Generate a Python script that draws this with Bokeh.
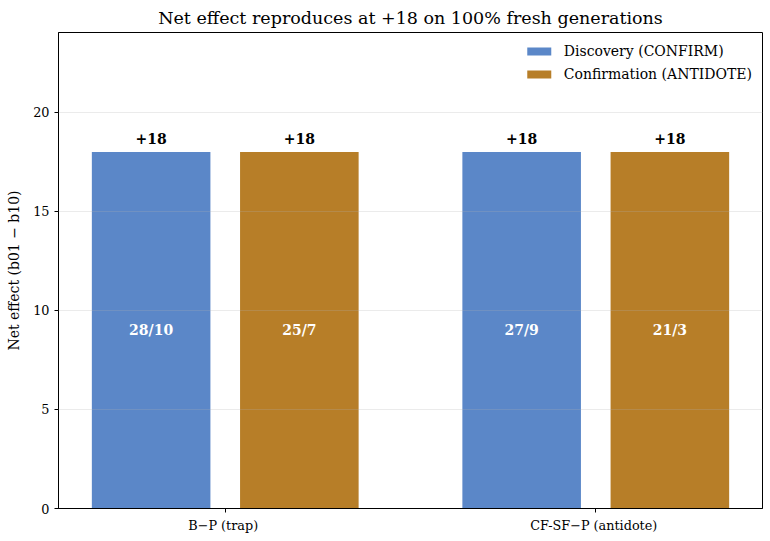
from bokeh.plotting import figure
from bokeh.models import ColumnDataSource, FixedTicker, Legend, LegendItem, Range1d
from bokeh.core.properties import value
from bokeh.embed import file_html
from bokeh.resources import INLINE

categories = ["B\u2212P  (trap)", "CF-SF\u2212P  (antidote)"]
series_names = ["Discovery (CONFIRM)", "Confirmation (ANTIDOTE)"]
discovery = [18, 18]
confirmation = [18, 18]
discovery_counts = ["28/10", "27/9"]
confirmation_counts = ["25/7", "21/3"]
colors = ["#5B87C8", "#B77E28"]

FONT = "DejaVu Serif"
offset = 0.2
bw = 0.32

p = figure(width=770, height=541, output_backend="svg", toolbar_location=None,
           x_range=Range1d(-0.45, 1.45), y_range=Range1d(0, 24.03),
           min_border_left=58, min_border_right=8, min_border_top=31, min_border_bottom=33)

p.title.text = "Net effect reproduces at +18 on 100% fresh generations"
p.title.text_font = FONT
p.title.text_font_size = "17.5px"
p.title.text_font_style = "normal"
p.title.align = "center"
p.title.text_color = "#000000"

xs = list(range(len(categories)))
renderers = []
for i, (vals, counts, col) in enumerate([(discovery, discovery_counts, colors[0]),
                                          (confirmation, confirmation_counts, colors[1])]):
    xpos = [x + (-offset if i == 0 else offset) for x in xs]
    src = ColumnDataSource(dict(x=xpos, top=vals, mid=[v / 2 for v in vals],
                                lab=["+%d" % v for v in vals], cnt=counts))
    r = p.vbar(x="x", top="top", width=bw, bottom=0, source=src, fill_color=col, line_color=None)
    renderers.append(r)
    p.text(x="x", y="top", text="lab", source=src, text_font=value(FONT), text_font_size="14px",
           text_font_style="bold", text_color="black", text_align="center", text_baseline="bottom",
           y_offset=-8)
    p.text(x="x", y="mid", text="cnt", source=src, text_font=value(FONT), text_font_size="14px",
           text_font_style="bold", text_color="white", text_align="center", text_baseline="middle")

legend = Legend(items=[LegendItem(label=series_names[k], renderers=[renderers[k]]) for k in range(2)],
                location="top_right", label_text_font=FONT, label_text_font_size="14px",
                label_text_color="black",
                border_line_color=None, background_fill_alpha=0.9,
                glyph_width=30, glyph_height=10, label_height=17, spacing=6, padding=6, margin=10,
                label_standoff=10)
p.add_layout(legend, "center")

p.xaxis.ticker = FixedTicker(ticks=xs)
p.xaxis.major_label_overrides = {x: c for x, c in zip(xs, categories)}
p.yaxis.ticker = FixedTicker(ticks=[0, 5, 10, 15, 20])
for ax in (p.xaxis, p.yaxis):
    ax.major_label_text_font = FONT
    ax.major_label_text_font_size = "12.8px"
    ax.major_label_text_color = "#000000"
    ax.minor_tick_line_color = None
    ax.major_tick_in = 0
    ax.major_tick_out = 4
    ax.axis_line_color = "black"
    ax.major_tick_line_color = "black"
p.yaxis.axis_label = "Net effect (b01 \u2212 b10)"
p.yaxis.axis_label_text_font = FONT
p.yaxis.axis_label_text_font_size = "14px"
p.yaxis.axis_label_text_font_style = "normal"
p.yaxis.axis_label_text_color = "black"
p.yaxis.axis_label_standoff = 8

p.xgrid.grid_line_color = None
p.ygrid.grid_line_color = "#b0b0b0"
p.ygrid.grid_line_alpha = 0.25
p.ygrid.level = "overlay"

p.outline_line_color = "black"
p.outline_line_alpha = 1
p.outline_line_width = 1

open("out.html", "w").write(file_html(p, INLINE))
